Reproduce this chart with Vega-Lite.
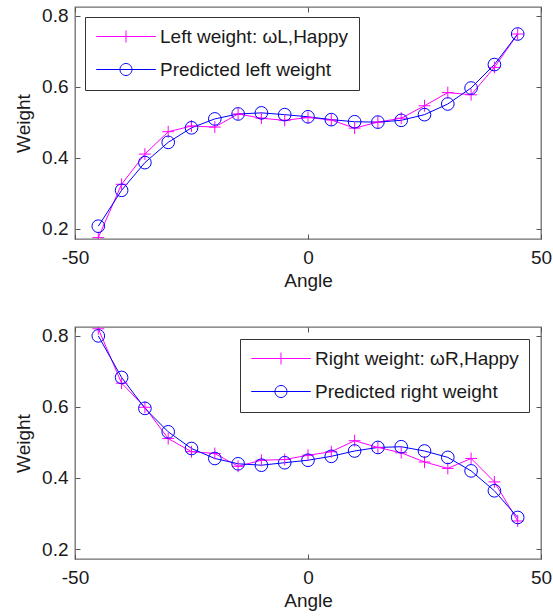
{
  "$schema": "https://vega.github.io/schema/vega-lite/v6.json",
  "autosize": {"type": "pad"},
  "padding": {"left": 13, "top": 5, "right": 0, "bottom": 5},
  "background": "white",
  "config": {
    "font": "Liberation Sans",
    "view": {"stroke": "#6e6e6e", "strokeWidth": 1.3},
    "axis": {
      "labelFont": "Liberation Sans", "labelFontSize": 19, "labelColor": "#1a1a1a",
      "titleFont": "Liberation Sans", "titleFontSize": 19, "titleFontWeight": "normal", "titleColor": "#1a1a1a",
      "domain": false, "grid": false, "tickColor": "#555", "tickSize": -5, "tickWidth": 1,
      "labelFlush": false, "labelOverlap": false
    }
  },
  "datasets": {
    "top": [
      {"angle": -45, "weight": 0.175, "series": "Left weight: ωL,Happy"},
      {"angle": -40, "weight": 0.325, "series": "Left weight: ωL,Happy"},
      {"angle": -35, "weight": 0.41, "series": "Left weight: ωL,Happy"},
      {"angle": -30, "weight": 0.473, "series": "Left weight: ωL,Happy"},
      {"angle": -25, "weight": 0.489, "series": "Left weight: ωL,Happy"},
      {"angle": -20, "weight": 0.486, "series": "Left weight: ωL,Happy"},
      {"angle": -15, "weight": 0.523, "series": "Left weight: ωL,Happy"},
      {"angle": -10, "weight": 0.511, "series": "Left weight: ωL,Happy"},
      {"angle": -5, "weight": 0.505, "series": "Left weight: ωL,Happy"},
      {"angle": 0, "weight": 0.513, "series": "Left weight: ωL,Happy"},
      {"angle": 5, "weight": 0.506, "series": "Left weight: ωL,Happy"},
      {"angle": 10, "weight": 0.483, "series": "Left weight: ωL,Happy"},
      {"angle": 15, "weight": 0.5, "series": "Left weight: ωL,Happy"},
      {"angle": 20, "weight": 0.511, "series": "Left weight: ωL,Happy"},
      {"angle": 25, "weight": 0.546, "series": "Left weight: ωL,Happy"},
      {"angle": 30, "weight": 0.583, "series": "Left weight: ωL,Happy"},
      {"angle": 35, "weight": 0.577, "series": "Left weight: ωL,Happy"},
      {"angle": 40, "weight": 0.654, "series": "Left weight: ωL,Happy"},
      {"angle": 45, "weight": 0.748, "series": "Left weight: ωL,Happy"},
      {"angle": -45, "weight": 0.207, "series": "Predicted left weight"},
      {"angle": -40, "weight": 0.308, "series": "Predicted left weight"},
      {"angle": -35, "weight": 0.386, "series": "Predicted left weight"},
      {"angle": -30, "weight": 0.443, "series": "Predicted left weight"},
      {"angle": -25, "weight": 0.484, "series": "Predicted left weight"},
      {"angle": -20, "weight": 0.509, "series": "Predicted left weight"},
      {"angle": -15, "weight": 0.523, "series": "Predicted left weight"},
      {"angle": -10, "weight": 0.526, "series": "Predicted left weight"},
      {"angle": -5, "weight": 0.521, "series": "Predicted left weight"},
      {"angle": 0, "weight": 0.515, "series": "Predicted left weight"},
      {"angle": 5, "weight": 0.507, "series": "Predicted left weight"},
      {"angle": 10, "weight": 0.501, "series": "Predicted left weight"},
      {"angle": 15, "weight": 0.5, "series": "Predicted left weight"},
      {"angle": 20, "weight": 0.505, "series": "Predicted left weight"},
      {"angle": 25, "weight": 0.521, "series": "Predicted left weight"},
      {"angle": 30, "weight": 0.551, "series": "Predicted left weight"},
      {"angle": 35, "weight": 0.596, "series": "Predicted left weight"},
      {"angle": 40, "weight": 0.662, "series": "Predicted left weight"},
      {"angle": 45, "weight": 0.748, "series": "Predicted left weight"}
    ],
    "bottom": [
      {"angle": -45, "weight": 0.82, "series": "Right weight: ωR,Happy"},
      {"angle": -40, "weight": 0.667, "series": "Right weight: ωR,Happy"},
      {"angle": -35, "weight": 0.599, "series": "Right weight: ωR,Happy"},
      {"angle": -30, "weight": 0.511, "series": "Right weight: ωR,Happy"},
      {"angle": -25, "weight": 0.474, "series": "Right weight: ωR,Happy"},
      {"angle": -20, "weight": 0.469, "series": "Right weight: ωR,Happy"},
      {"angle": -15, "weight": 0.433, "series": "Right weight: ωR,Happy"},
      {"angle": -10, "weight": 0.45, "series": "Right weight: ωR,Happy"},
      {"angle": -5, "weight": 0.452, "series": "Right weight: ωR,Happy"},
      {"angle": 0, "weight": 0.464, "series": "Right weight: ωR,Happy"},
      {"angle": 5, "weight": 0.474, "series": "Right weight: ωR,Happy"},
      {"angle": 10, "weight": 0.505, "series": "Right weight: ωR,Happy"},
      {"angle": 15, "weight": 0.486, "series": "Right weight: ωR,Happy"},
      {"angle": 20, "weight": 0.471, "series": "Right weight: ωR,Happy"},
      {"angle": 25, "weight": 0.445, "series": "Right weight: ωR,Happy"},
      {"angle": 30, "weight": 0.427, "series": "Right weight: ωR,Happy"},
      {"angle": 35, "weight": 0.455, "series": "Right weight: ωR,Happy"},
      {"angle": 40, "weight": 0.389, "series": "Right weight: ωR,Happy"},
      {"angle": 45, "weight": 0.279, "series": "Right weight: ωR,Happy"},
      {"angle": -45, "weight": 0.8, "series": "Predicted right weight"},
      {"angle": -40, "weight": 0.683, "series": "Predicted right weight"},
      {"angle": -35, "weight": 0.596, "series": "Predicted right weight"},
      {"angle": -30, "weight": 0.53, "series": "Predicted right weight"},
      {"angle": -25, "weight": 0.483, "series": "Predicted right weight"},
      {"angle": -20, "weight": 0.455, "series": "Predicted right weight"},
      {"angle": -15, "weight": 0.44, "series": "Predicted right weight"},
      {"angle": -10, "weight": 0.436, "series": "Predicted right weight"},
      {"angle": -5, "weight": 0.443, "series": "Predicted right weight"},
      {"angle": 0, "weight": 0.45, "series": "Predicted right weight"},
      {"angle": 5, "weight": 0.461, "series": "Predicted right weight"},
      {"angle": 10, "weight": 0.476, "series": "Predicted right weight"},
      {"angle": 15, "weight": 0.486, "series": "Predicted right weight"},
      {"angle": 20, "weight": 0.488, "series": "Predicted right weight"},
      {"angle": 25, "weight": 0.476, "series": "Predicted right weight"},
      {"angle": 30, "weight": 0.458, "series": "Predicted right weight"},
      {"angle": 35, "weight": 0.42, "series": "Predicted right weight"},
      {"angle": 40, "weight": 0.364, "series": "Predicted right weight"},
      {"angle": 45, "weight": 0.289, "series": "Predicted right weight"}
    ]
  },
  "bounds": "flush",
  "spacing": 88,
  "resolve": {"scale": {"color": "independent"}, "legend": {"color": "independent"}},
  "vconcat": [
    {
      "width": 466, "height": 232,
      "data": {"name": "top"},
      "layer": [
        {"mark": {"type": "line", "strokeWidth": 1, "clip": true},
         "encoding": {
           "x": {"field": "angle", "type": "quantitative", "scale": {"domain": [-50, 50], "nice": false},
                 "axis": {"orient": "bottom", "values": [-50, 0, 50], "labelExpr": "datum.value < 0 ? '-' + abs(datum.value) : '' + datum.value", "labelPadding": 14, "title": "Angle", "titlePadding": 4}},
           "y": {"field": "weight", "type": "quantitative", "scale": {"domain": [0.171, 0.824], "nice": false, "zero": false},
                 "axis": {"orient": "left", "values": [0.2, 0.4, 0.6, 0.8], "format": ".1f", "labelPadding": 12, "title": "Weight", "titlePadding": 8}},
           "color": {"field": "series", "type": "nominal",
                     "scale": {"domain": ["Left weight: ωL,Happy", "Predicted left weight"], "range": ["#ff00ff", "#0000ff"]},
                     "legend": {"title": null, "orient": "top-left", "offset": 10, "padding": 10, "strokeColor": "#333", "fillColor": "#ffffff",
                                "symbolSize": 144, "symbolStrokeWidth": 1, "labelOffset": 46, "labelFontSize": 19, "labelFont": "Liberation Sans",
                                "labelColor": "#1a1a1a", "rowPadding": 13, "labelLimit": 400,
                                "encode": {"symbols": {"update": {
                                  "shape": {"signal": "test(/Predicted/, datum.label) ? 'M-1.38,0H8.55M2.58,0A1,1 0 1,1 4.58,0A1,1 0 1,1 2.58,0' : 'M-1.38,0H8.55M3.58,-1V1'"},
                                  "fill": {"value": "transparent"},
                                  "stroke": {"signal": "test(/Predicted/, datum.label) ? '#0000ff' : '#ff00ff'"},
                                  "strokeWidth": {"value": 1},
                                  "opacity": {"value": 1}}}}}}
         }},
        {"transform": [{"filter": "datum.series !== 'Predicted left weight'"}],
         "mark": {"type": "point", "filled": false, "strokeWidth": 1, "clip": true, "opacity": 1, "size": 140, "shape": "M-1,0H1M0,-1V1", "color": "#ff00ff"},
         "encoding": {
           "x": {"field": "angle", "type": "quantitative", "axis": {"orient": "top", "values": [-50, 0, 50], "labels": false, "title": null}},
           "y": {"field": "weight", "type": "quantitative", "axis": {"orient": "right", "values": [0.2, 0.4, 0.6, 0.8], "labels": false, "title": null}}
         }},
        {"transform": [{"filter": "datum.series === 'Predicted left weight'"}],
         "mark": {"type": "point", "filled": false, "strokeWidth": 1, "clip": true, "opacity": 1, "size": 160, "shape": "circle", "color": "#0000ff"},
         "encoding": {
           "x": {"field": "angle", "type": "quantitative", "axis": null},
           "y": {"field": "weight", "type": "quantitative", "axis": null}
         }}
      ],
      "resolve": {"axis": {"x": "independent", "y": "independent"}}
    },
    {
      "width": 466, "height": 232,
      "data": {"name": "bottom"},
      "layer": [
        {"mark": {"type": "line", "strokeWidth": 1, "clip": true},
         "encoding": {
           "x": {"field": "angle", "type": "quantitative", "scale": {"domain": [-50, 50], "nice": false},
                 "axis": {"orient": "bottom", "values": [-50, 0, 50], "labelExpr": "datum.value < 0 ? '-' + abs(datum.value) : '' + datum.value", "labelPadding": 14, "title": "Angle", "titlePadding": 4}},
           "y": {"field": "weight", "type": "quantitative", "scale": {"domain": [0.172, 0.825], "nice": false, "zero": false},
                 "axis": {"orient": "left", "values": [0.2, 0.4, 0.6, 0.8], "format": ".1f", "labelPadding": 12, "title": "Weight", "titlePadding": 8}},
           "color": {"field": "series", "type": "nominal",
                     "scale": {"domain": ["Right weight: ωR,Happy", "Predicted right weight"], "range": ["#ff00ff", "#0000ff"]},
                     "legend": {"title": null, "orient": "top-right", "offset": 12, "padding": 10, "strokeColor": "#333", "fillColor": "#ffffff",
                                "symbolSize": 144, "symbolStrokeWidth": 1, "labelOffset": 46, "labelFontSize": 19, "labelFont": "Liberation Sans",
                                "labelColor": "#1a1a1a", "rowPadding": 13, "labelLimit": 400,
                                "encode": {"symbols": {"update": {
                                  "shape": {"signal": "test(/Predicted/, datum.label) ? 'M-1.38,0H8.55M2.58,0A1,1 0 1,1 4.58,0A1,1 0 1,1 2.58,0' : 'M-1.38,0H8.55M3.58,-1V1'"},
                                  "fill": {"value": "transparent"},
                                  "stroke": {"signal": "test(/Predicted/, datum.label) ? '#0000ff' : '#ff00ff'"},
                                  "strokeWidth": {"value": 1},
                                  "opacity": {"value": 1}}}}}}
         }},
        {"transform": [{"filter": "datum.series !== 'Predicted right weight'"}],
         "mark": {"type": "point", "filled": false, "strokeWidth": 1, "clip": true, "opacity": 1, "size": 140, "shape": "M-1,0H1M0,-1V1", "color": "#ff00ff"},
         "encoding": {
           "x": {"field": "angle", "type": "quantitative", "axis": {"orient": "top", "values": [-50, 0, 50], "labels": false, "title": null}},
           "y": {"field": "weight", "type": "quantitative", "axis": {"orient": "right", "values": [0.2, 0.4, 0.6, 0.8], "labels": false, "title": null}}
         }},
        {"transform": [{"filter": "datum.series === 'Predicted right weight'"}],
         "mark": {"type": "point", "filled": false, "strokeWidth": 1, "clip": true, "opacity": 1, "size": 160, "shape": "circle", "color": "#0000ff"},
         "encoding": {
           "x": {"field": "angle", "type": "quantitative", "axis": null},
           "y": {"field": "weight", "type": "quantitative", "axis": null}
         }}
      ],
      "resolve": {"axis": {"x": "independent", "y": "independent"}}
    }
  ]
}
